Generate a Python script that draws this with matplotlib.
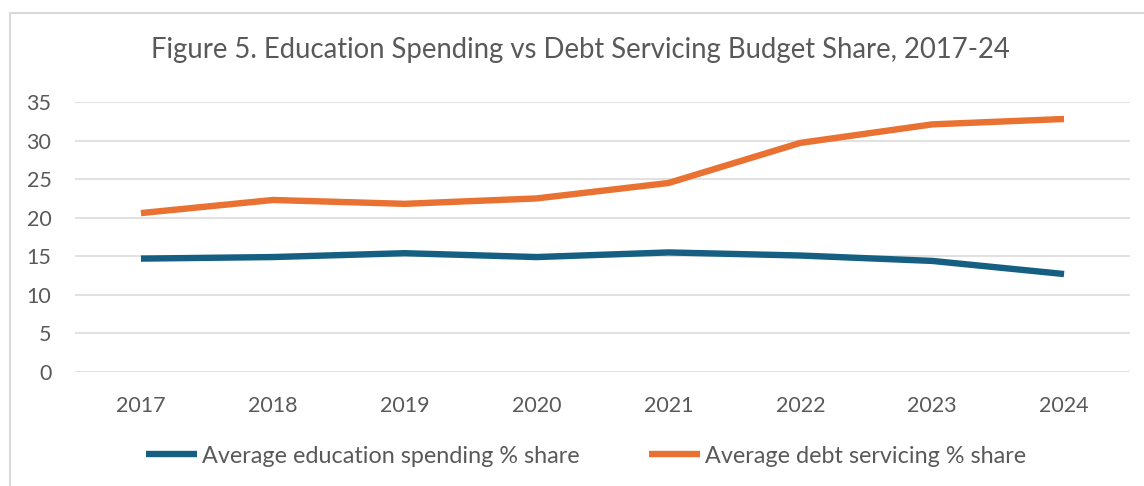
import matplotlib

matplotlib.use("Agg")
import matplotlib.pyplot as plt
from matplotlib.patches import Rectangle

years = ["2017", "2018", "2019", "2020", "2021", "2022", "2023", "2024"]
education_share = [14.7, 14.9, 15.4, 14.9, 15.5, 15.1, 14.4, 12.7]
debt_share = [20.6, 22.3, 21.8, 22.5, 24.5, 29.7, 32.1, 32.8]
y_ticks = [0, 5, 10, 15, 20, 25, 30, 35]

W, H = 1144, 486
TEXT = "#595959"
GRID = "#D9D9D9"
BLUE = "#156082"
ORANGE = "#E97132"

plt.rcParams["font.family"] = ["Lato", "DejaVu Sans"]

fig = plt.figure(figsize=(W / 100, H / 100), dpi=100)
ax = fig.add_axes([75 / W, (H - 372) / H, (1130 - 75) / W, 270 / H])

x = list(range(len(years)))
ax.plot(x, education_share, color=BLUE, lw=4.6, solid_joinstyle="round",
        solid_capstyle="butt", label="Average education spending % share")
ax.plot(x, debt_share, color=ORANGE, lw=4.6, solid_joinstyle="round",
        solid_capstyle="butt", label="Average debt servicing % share")

ax.set_xlim(-0.5, len(years) - 0.5)
ax.set_ylim(0, 35)
ax.set_yticks(y_ticks)
ax.set_xticks(x)
ax.set_xticklabels(years)
ax.grid(axis="y", color=GRID, lw=1.1)
ax.set_axisbelow(True)
for s in ax.spines.values():
    s.set_visible(False)
ax.tick_params(axis="both", length=0, labelsize=15.5, labelcolor=TEXT)
ax.tick_params(axis="y", pad=17)
ax.tick_params(axis="x", pad=17)

fig.text(0.5 + 8 / W, (H - 50) / H,
         "Figure 5. Education Spending vs Debt Servicing Budget Share, 2017-24",
         ha="center", va="center", fontsize=19.8, color=TEXT)

leg = fig.legend(loc="center", bbox_to_anchor=(586 / W, (H - 456) / H), ncol=2,
                 frameon=False, fontsize=16.8, handlelength=2.2,
                 handletextpad=0.21, columnspacing=2.96)
for t in leg.get_texts():
    t.set_color(TEXT)

# outer chart border (only top and left edges visible in the crop)
fig.add_artist(Rectangle((10 / W, -0.1), 2, (H - 13) / H + 0.1,
                         transform=fig.transFigure, fill=False,
                         edgecolor=GRID, lw=1.5))

fig.savefig("out.png", dpi=100)
